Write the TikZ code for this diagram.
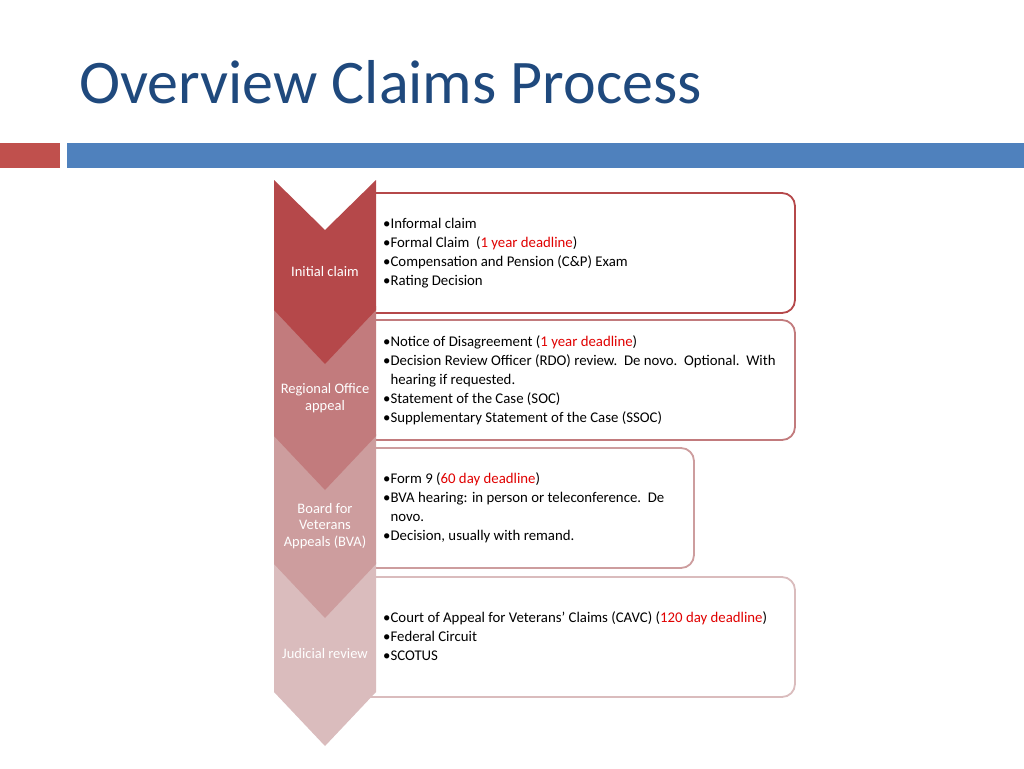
\documentclass[tikz,border=0pt]{standalone}
\usepackage{fontspec}
\setmainfont{Carlito}
\usetikzlibrary{calc}
\definecolor{titleblue}{HTML}{1F497D}
\definecolor{barblue}{HTML}{4F81BD}
\definecolor{barred}{HTML}{C0504D}
\definecolor{chevA}{HTML}{B5484A}
\definecolor{chevB}{HTML}{C27B7D}
\definecolor{chevC}{HTML}{CD9D9E}
\definecolor{chevD}{HTML}{DABCBD}
\definecolor{deadline}{HTML}{E00000}
\tikzset{>=latex,
  stage/.style={font=\fontsize{14.5}{16.5}\selectfont, text=white, align=center},
  infobox/.style={line width=1.8pt, fill=white, rounded corners=13},
  infotext/.style={anchor=west, align=left, font=\fontsize{14.8}{19}\selectfont, inner sep=0pt}}
\newcommand{\dl}[1]{\textcolor{deadline}{#1}}
\begin{document}
\begin{tikzpicture}[x=1pt,y=-1pt]
	\useasboundingbox (0,0) rectangle (1024,768);
	% Title and bars
	\node[anchor=west, text=titleblue, font=\fontsize{62}{70}\selectfont, inner sep=0pt] (title) at (79,82) {Overview Claims Process};
	\fill[barred] (0,143) rectangle (60,168);
	\fill[barblue] (67,143) rectangle (1024,168);
	
	% Boxes
	\draw[infobox, draw=chevA] (370,193) -- (795,193) -- (795,313) -- (370,313);
	\draw[infobox, draw=chevB] (370,320) -- (795,320) -- (795,440) -- (370,440);
	\draw[infobox, draw=chevC] (370,448) -- (694,448) -- (694,568) -- (370,568);
	\draw[infobox, draw=chevD] (370,577) -- (795,577) -- (795,697) -- (370,697);
	
	% Chevrons, last first
	\foreach \top/\col in {562/chevD, 434/chevC, 306/chevB, 180/chevA}{
		\fill[\col] (274,\top) -- (325,\top+50) -- (376,\top) -- (376,\top+130)
			-- (325,\top+184) -- (274,\top+130) -- cycle;
	}
	
	% Stage labels
	\node[stage] (s1) at (325,272) {Initial claim};
	\node[stage] (s2) at (325,398) {Regional Office\\appeal};
	\node[stage] (s3) at (325,526) {Board for\\Veterans\\Appeals (BVA)};
	\node[stage] (s4) at (325,654) {Judicial review};
	
	% Box texts
	\node[infotext] (t1) at (383,253) {•Informal claim\\•Formal Claim\ \ (\dl{1 year deadline})\\•Compensation and Pension (C\&P) Exam\\•Rating Decision};
	\node[infotext] (t2) at (383,380) {•Notice of Disagreement (\dl{1 year deadline})\\•Decision Review Officer (RDO) review.\ \ De novo.\ \ Optional.\ \ With\\\phantom{•}hearing if requested.\\•Statement of the Case (SOC)\\•Supplementary Statement of the Case (SSOC)};
	\node[infotext] (t3) at (383,508) {•Form 9 (\dl{60 day deadline})\\•BVA hearing: in person or teleconference.\ \ De\\\phantom{•}novo.\\•Decision, usually with remand.};
	\node[infotext] (t4) at (383,636) {•Court of Appeal for Veterans’ Claims (CAVC) (\dl{120 day deadline})\\•Federal Circuit\\•SCOTUS};
\end{tikzpicture}
\end{document}
